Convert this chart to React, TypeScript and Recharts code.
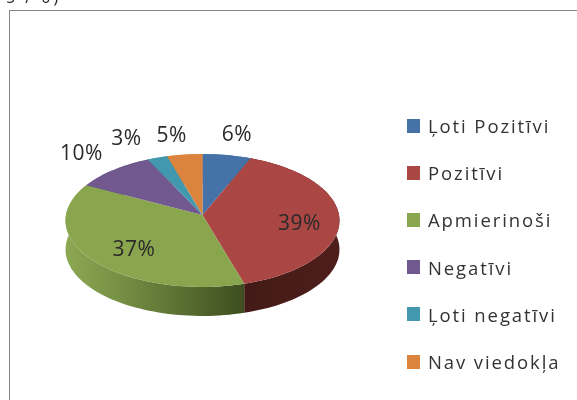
import { PieChart, Pie, Legend } from "recharts";

const CATEGORIES = ["Ļoti Pozitīvi", "Pozitīvi", "Apmierinoši", "Negatīvi", "Ļoti negatīvi", "Nav viedokļa"];
const VALUES = [6.2, 39.4, 37.4, 10.2, 2.6, 4.5];
const COLORS = ["#4572A7", "#AA4643", "#89A54E", "#71588F", "#4198AF", "#DB843D"];

const LABEL_OFFSETS = [[10, -22], [-40, 4], [43, -11], [-32, -18], [-31, -21], [-13, -21]];

const rows = CATEGORIES.map((name, i) => ({ name, value: VALUES[i], fill: COLORS[i], idx: i }));

// perspective of the tilted disc
const RY = 66;
const K = 0.0827;
const DEPTH = 29;
const FONT = "'Open Sans', sans-serif";

function project(cx: number, cy: number, r: number, angle: number) {
  const t = (angle * Math.PI) / 180;
  const u = Math.cos(t);
  const v = Math.sin(t);
  const s = 1 / (1 + K * v);
  return [cx + r * u * s, cy - RY * v * s];
}

function rimPoints(cx: number, cy: number, r: number, a0: number, a1: number) {
  const n = Math.max(2, Math.ceil(Math.abs(a1 - a0) / 2));
  const pts: number[][] = [];
  for (let i = 0; i <= n; i++) pts.push(project(cx, cy, r, a0 + ((a1 - a0) * i) / n));
  return pts;
}

const toPath = (pts: number[][]) => pts.map((p, i) => `${i ? "L" : "M"}${p[0].toFixed(1)},${p[1].toFixed(1)}`).join(" ");

function TopSlice(props: any) {
  const { cx, cy, outerRadius, startAngle, endAngle, fill } = props;
  const d = `M${cx},${cy} ` + toPath(rimPoints(cx, cy, outerRadius, startAngle, endAngle)).replace("M", "L") + " Z";
  return <path d={d} fill={fill} />;
}

function WallSlice(props: any) {
  const { cx, cy, outerRadius, startAngle, endAngle, idx } = props;
  const top = rimPoints(cx, cy, outerRadius, startAngle, endAngle);
  const bottom = top.map((p) => [p[0], p[1] + DEPTH]).reverse();
  const d = toPath([...top, ...bottom]) + " Z";
  return <path d={d} fill={idx === 1 ? "url(#wallRed)" : idx === 2 ? "url(#wallGreen)" : COLORS[idx]} />;
}

function renderLabel(props: any) {
  const { cx, cy, outerRadius, midAngle, value, index } = props;
  const [x, y] = project(cx, cy, outerRadius, midAngle);
  const [dx, dy] = LABEL_OFFSETS[index];
  return (
    <text x={x + dx} y={y + dy} textAnchor="middle" dominantBaseline="central" fontFamily={FONT} fontSize={21} letterSpacing={0.5} fill="#2a2a2a">
      {Math.round(value)}%
    </text>
  );
}

function LegendList({ payload }: any) {
  // both pies report to the legend, one set of entries is enough
  const entries = (payload || []).slice(0, CATEGORIES.length);
  return (
    <div>
      {entries.map((entry: any) => (
        <div key={entry.value} style={{ display: "flex", alignItems: "center", height: 47.2 }}>
          <span style={{ width: 13, height: 14, background: entry.color, marginRight: 8, flex: "none" }} />
          <span style={{ fontFamily: FONT, fontSize: 18.5, color: "#333", letterSpacing: 1.9, whiteSpace: "nowrap" }}>{entry.value}</span>
        </div>
      ))}
    </div>
  );
}

export default function App() {
  return (
    <div style={{ position: "absolute", left: 0, top: 0, width: 577, height: 400, overflow: "hidden", background: "#fff", filter: "blur(0.4px)" }}>
      {/* line of text cut off by the top of the screenshot */}
      <div style={{ position: "absolute", left: 6, top: -11, fontFamily: FONT, fontSize: 16, lineHeight: "16px", letterSpacing: 3, color: "#222", whiteSpace: "nowrap" }}>5 / 0)</div>
      <div style={{ position: "absolute", left: 9, top: 10, width: 600, height: 420, border: "1px solid #868686" }} />
      <div style={{ position: "absolute", left: 0, top: 0 }}>
        <PieChart width={577} height={400} margin={{ top: 0, right: 0, bottom: 0, left: 0 }}>
          <defs>
            <linearGradient id="wallGreen" gradientUnits="userSpaceOnUse" x1={66} y1={0} x2={243} y2={0}>
              <stop offset="0" stopColor="#8CA852" />
              <stop offset="0.35" stopColor="#728C42" />
              <stop offset="1" stopColor="#3E4E20" />
            </linearGradient>
            <linearGradient id="wallRed" gradientUnits="userSpaceOnUse" x1={243} y1={0} x2={339} y2={0}>
              <stop offset="0" stopColor="#431A17" />
              <stop offset="1" stopColor="#4E1E1B" />
            </linearGradient>
          </defs>
          <Pie
            data={rows}
            dataKey="value"
            nameKey="name"
            cx={202.5}
            cy={215}
            outerRadius={136.5}
            startAngle={90}
            endAngle={-270}
            stroke="none"
            legendType="none"
            isAnimationActive={false}
            shape={WallSlice}
          />
          <Pie
            data={rows}
            dataKey="value"
            nameKey="name"
            cx={202.5}
            cy={215}
            outerRadius={136.5}
            startAngle={90}
            endAngle={-270}
            stroke="none"
            isAnimationActive={false}
            shape={TopSlice}
            label={renderLabel}
            labelLine={false}
          />
          <Legend
            layout="vertical"
            align="right"
            verticalAlign="middle"
            itemSorter={null}
            content={<LegendList />}
            wrapperStyle={{ left: 407, top: 102, width: 170 }}
          />
        </PieChart>
      </div>
    </div>
  );
}
